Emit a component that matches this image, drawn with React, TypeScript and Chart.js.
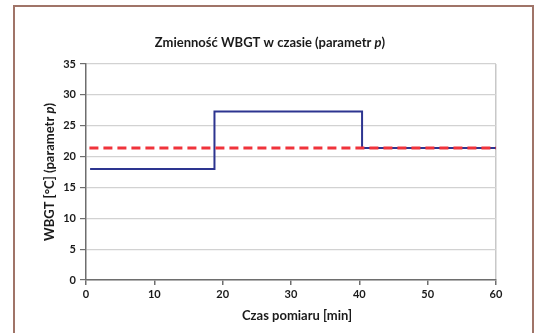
import React, { useEffect, useRef } from "react";
import { Chart, registerables } from "chart.js";

Chart.register(...registerables);

const stepX = [0.6, 18.8, 40.4, 60];
const stepY = [18, 27.3, 21.4, 21.4];
const refX = [0.5, 60];
const refY = [21.4, 21.4];
const xTicks = [0, 10, 20, 30, 40, 50, 60];
const yTicks = [0, 5, 10, 15, 20, 25, 30, 35];

const titleParts = [
  { t: "Zmienność WBGT w czasie (parametr ", i: false },
  { t: "p", i: true },
  { t: ")", i: false },
];
const yTitleParts = [
  { t: "WBGT [°C] (parametr ", i: false },
  { t: "p", i: true },
  { t: ")", i: false },
];
const xTitle = "Czas pomiaru [min]";

const FONT = "Lato, 'Open Sans', sans-serif";

function drawParts(ctx: CanvasRenderingContext2D, parts: { t: string; i: boolean }[], cx: number, cy: number, size: number) {
  const fontFor = (it: boolean) => `${it ? "italic " : ""}bold ${size}px ${FONT}`;
  let total = 0;
  const widths = parts.map((p) => {
    ctx.font = fontFor(p.i);
    const w = ctx.measureText(p.t).width;
    total += w;
    return w;
  });
  let x = cx - total / 2;
  ctx.textBaseline = "middle";
  ctx.textAlign = "left";
  parts.forEach((p, k) => {
    ctx.font = fontFor(p.i);
    ctx.fillText(p.t, x, cy);
    x += widths[k];
  });
}

const textPlugin = {
  id: "texts",
  afterDraw(chart: any) {
    const ctx = chart.ctx as CanvasRenderingContext2D;
    ctx.save();
    ctx.fillStyle = "#1a1a1a";
    drawParts(ctx, titleParts, 270, 43, 13);
    drawParts(ctx, [{ t: xTitle, i: false }], 297, 316, 13);
    ctx.translate(50, 172);
    ctx.rotate(-Math.PI / 2);
    drawParts(ctx, yTitleParts, 0, 0, 13);
    ctx.restore();
  },
};

export default function App() {
  const ref = useRef<HTMLCanvasElement>(null);
  useEffect(() => {
    if (!ref.current) return;
    const chart = new Chart(ref.current, {
      type: "scatter",
      data: {
        datasets: [
          {
            data: refX.map((x, i) => ({ x, y: refY[i] })),
            showLine: true,
            borderColor: "#f0333b",
            borderWidth: 3,
            borderDash: [9, 5],
            pointRadius: 0,
          },
          {
            data: stepX.map((x, i) => ({ x, y: stepY[i] })),
            showLine: true,
            stepped: "before",
            borderColor: "#2d3590",
            borderWidth: 2,
            pointRadius: 0,
          },
        ],
      },
      options: {
        responsive: false,
        animation: false,
        layout: { padding: { left: 0, top: 64, right: 43, bottom: 0 } },
        plugins: { legend: { display: false }, tooltip: { enabled: false }, title: { display: false } },
        scales: {
          x: {
            type: "linear",
            min: 0,
            max: 60,
            afterFit: (s: any) => { s.height = 53; },
            afterBuildTicks: (s: any) => { s.ticks = xTicks.map((v) => ({ value: v })); },
            ticks: { color: "#1a1a1a", font: { family: FONT, size: 11, weight: "bold" }, padding: 3 },
            grid: {
              color: (c: any) => (c.index === xTicks.length - 1 ? "#c8c8c8" : "rgba(0,0,0,0)"),
              lineWidth: 1.5,
              tickColor: "#6e6e6e",
              tickLength: 5,
            },
            border: { color: "#6e6e6e", width: 1.5 },
          },
          y: {
            type: "linear",
            min: 0,
            max: 35,
            afterFit: (s: any) => { s.width = 86; },
            afterBuildTicks: (s: any) => { s.ticks = yTicks.map((v) => ({ value: v })); },
            ticks: { color: "#1a1a1a", font: { family: FONT, size: 11, weight: "bold" }, padding: 4 },
            grid: { color: "#d2d2d2", lineWidth: 1.2, tickColor: "#6e6e6e", tickLength: 6 },
            border: { color: "#6e6e6e", width: 1.5 },
          },
        },
      },
      plugins: [textPlugin],
    } as any);
    return () => chart.destroy();
  }, []);
  return (
    <div style={{ position: "fixed", left: 0, top: 0, width: 539, height: 333, background: "#fff", overflow: "hidden" }}>
      <div style={{ position: "absolute", left: 13, top: 5, width: 517, height: 360, border: "2px solid #a07468" }} />
      <canvas ref={ref} width={539} height={333} style={{ position: "absolute", left: 0, top: 0 }} />
    </div>
  );
}
